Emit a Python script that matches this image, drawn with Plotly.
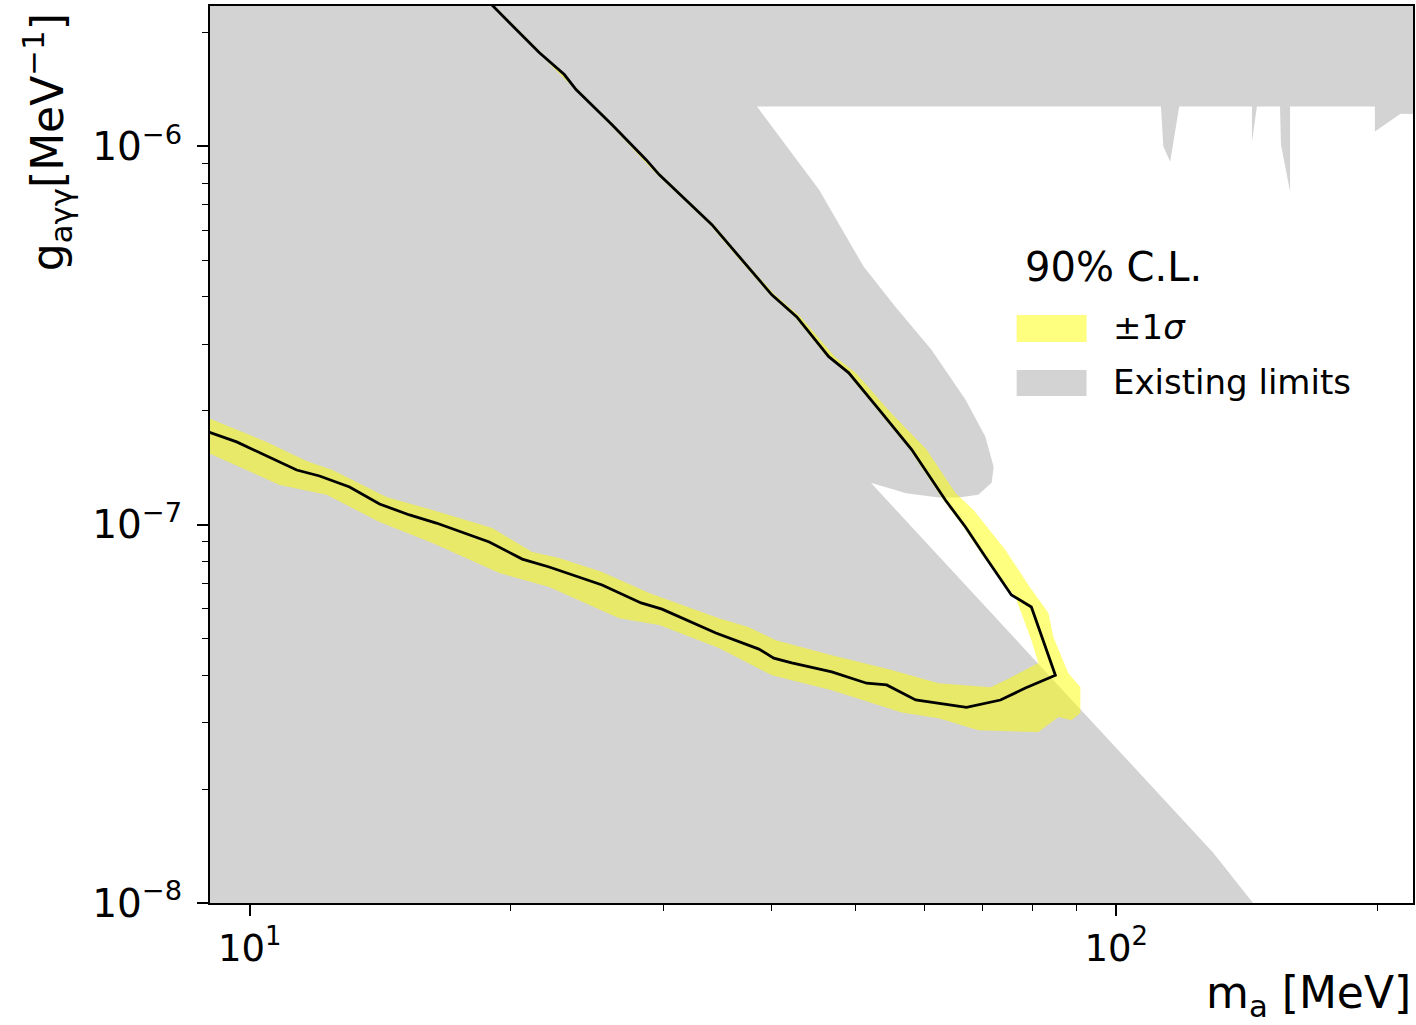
import plotly.graph_objects as go

# ---------------- data ----------------
# allowed (not yet excluded) region, boundary of the white hole in the "existing limits"
allowed_m = [38.5, 45.4, 51.1, 55.6, 61.2, 67.0, 70.6, 72.2, 71.8, 69.3, 65.8, 62.4, 57.2, 52.1,
             129.3, 143.8, 152.0, 300.0, 300.0, 212.9, 198.8, 198.8, 158.7, 158.7, 154.9, 154.5,
             145.3, 143.4, 143.4, 118.2, 115.4, 113.3, 112.6]
allowed_g = [1.274e-6, 7.68e-7, 4.81e-7, 3.77e-7, 2.90e-7, 2.14e-7, 1.71e-7, 1.42e-7, 1.29e-7,
             1.20e-7, 1.18e-7, 1.18e-7, 1.21e-7, 1.29e-7,
             1.36e-8, 1.0e-8, 8.5e-9, 8.5e-9, 1.2e-6, 1.22e-6, 1.094e-6, 1.274e-6, 1.274e-6,
             7.59e-7, 1.01e-6, 1.274e-6, 1.274e-6, 1.029e-6, 1.274e-6, 1.274e-6, 9.11e-7,
             1.0e-6, 1.274e-6]

# existing-limits domain (the whole displayed plane)
domain_m = [8.0, 300.0, 300.0, 8.0]
domain_g = [5e-9, 5e-9, 5e-6, 5e-6]

# median 90% C.L. sensitivity contour
median_m = [8.95, 9.66, 11.33, 12.04, 13.04, 14.12, 15.29, 16.42, 18.90, 20.63, 22.16, 25.51,
            28.29, 29.91, 34.51, 38.69, 40.25, 42.22, 46.96, 51.52, 54.33, 58.68, 67.17, 73.51,
            78.55, 85.06,
            79.8, 75.68, 70.64, 66.99, 63.53, 58.06, 53.48, 49.12, 46.58, 42.79, 40.04, 36.68,
            34.15, 29.68, 28.67, 26.19, 24.97, 23.80, 23.07, 21.58, 19.05, 17.46]
median_g = [1.76e-7, 1.655e-7, 1.395e-7, 1.345e-7, 1.258e-7, 1.134e-7, 1.061e-7, 1.01e-7,
            9.00e-8, 8.11e-8, 7.73e-8, 6.93e-8, 6.21e-8, 5.98e-8, 5.17e-8, 4.69e-8, 4.44e-8,
            4.31e-8, 4.08e-8, 3.81e-8, 3.77e-8, 3.44e-8, 3.29e-8, 3.44e-8, 3.70e-8, 4.00e-8,
            6.06e-8, 6.52e-8, 8.21e-8, 9.86e-8, 1.16e-7, 1.58e-7, 1.99e-7, 2.52e-7, 2.78e-7,
            3.54e-7, 4.05e-7, 5.11e-7, 6.21e-7, 8.42e-7, 9.22e-7, 1.141e-6, 1.266e-6, 1.413e-6,
            1.548e-6, 1.77e-6, 2.36e-6, 2.88e-6]

# +-1 sigma band: outer contour (forward) ...
outer_m = [8.95, 10.83, 12.27, 14.12, 16.25, 19.41, 22.16, 26.69, 29.68, 34.79, 40.04,
           46.96, 56.54, 62.37, 69.34, 81.31, 85.74, 88.75, 90.90,
           90.90, 88.04, 84.61, 83.50, 79.17, 74.49, 68.43, 65.23, 60.40, 54.77, 50.05, 47.33,
           43.24, 40.36, 36.88, 34.34, 29.83, 26.33, 23.93, 21.70, 19.15, 17.55]
outer_g = [1.548e-7, 1.274e-7, 1.199e-7, 1.016e-7, 8.95e-8, 7.45e-8, 6.84e-8, 5.66e-8,
           5.43e-8, 4.72e-8, 4.00e-8, 3.65e-8, 3.19e-8, 3.08e-8, 2.86e-8, 2.83e-8, 3.10e-8,
           3.04e-8, 3.18e-8,
           3.72e-8, 4.05e-8, 5.05e-8, 5.84e-8, 6.93e-8, 8.57e-8, 1.094e-7, 1.213e-7, 1.58e-7,
           1.99e-7, 2.52e-7, 2.78e-7, 3.54e-7, 4.05e-7, 5.11e-7, 6.21e-7, 8.42e-7, 1.141e-6,
           1.413e-6, 1.77e-6, 2.36e-6, 2.88e-6]
# ... and inner contour (from the top, down to the tip, back to the left)
inner_m = [17.41, 19.00, 21.53, 23.74, 26.06, 29.51, 33.97, 36.49, 39.83, 42.56, 46.34, 48.86,
           53.19, 57.75, 63.19, 66.63, 70.27, 76.48, 79.8, 81.31,
           74.49, 71.58, 62.37, 55.06, 46.96, 40.46, 37.67, 34.79, 28.90, 25.51, 22.76, 21.18,
           19.05, 16.25, 14.38, 12.46, 11.63, 10.46, 8.95]
inner_g = [2.88e-6, 2.36e-6, 1.77e-6, 1.413e-6, 1.141e-6, 8.42e-7, 6.21e-7, 5.11e-7, 4.05e-7,
           3.54e-7, 2.78e-7, 2.52e-7, 1.99e-7, 1.58e-7, 1.16e-7, 9.86e-8, 8.21e-8, 6.44e-8,
           4.95e-8, 4.31e-8,
           3.88e-8, 3.72e-8, 3.81e-8, 4.13e-8, 4.52e-8, 4.95e-8, 5.36e-8, 5.66e-8, 6.60e-8,
           7.50e-8, 8.17e-8, 8.47e-8, 9.80e-8, 1.094e-7, 1.184e-7, 1.395e-7, 1.474e-7,
           1.655e-7, 1.915e-7]

x_tickvals = [10, 100]
x_ticktext = ["10<sup>1</sup>", "10<sup>2</sup>"]
x_minor = [20, 30, 40, 50, 60, 70, 80, 90, 200]
y_tickvals = [1e-8, 1e-7, 1e-6]
y_ticktext = ["10<sup>\u22128</sup>", "10<sup>\u22127</sup>", "10<sup>\u22126</sup>"]
y_minor = [2e-8, 3e-8, 4e-8, 5e-8, 6e-8, 7e-8, 8e-8, 9e-8,
           2e-7, 3e-7, 4e-7, 5e-7, 6e-7, 7e-7, 8e-7, 9e-7, 2e-6]

legend_title = "90% C.L."
legend_labels = ["\u00b11<i>\u03c3</i>", "Existing limits"]

GRAY = "#d3d3d3"
YELLOW = "rgba(255,255,0,0.5)"
FONT = "DejaVu Sans"

# ---------------- figure ----------------
fig = go.Figure()
fig.add_trace(go.Scatter(x=domain_m, y=domain_g, mode="none", fill="toself",
                         fillcolor=GRAY, hoverinfo="skip", showlegend=False))
fig.add_trace(go.Scatter(x=allowed_m, y=allowed_g, mode="none", fill="toself",
                         fillcolor="white", hoverinfo="skip", showlegend=False))
fig.add_trace(go.Scatter(x=outer_m + inner_m, y=outer_g + inner_g, mode="none", fill="toself",
                         fillcolor=YELLOW, hoverinfo="skip", showlegend=False))
fig.add_trace(go.Scatter(x=median_m, y=median_g, mode="lines",
                         line=dict(color="black", width=2.8), showlegend=False))

axis_common = dict(
    type="log", showgrid=False, zeroline=False,
    showline=True, linecolor="black", linewidth=2.2, mirror=True,
    ticks="outside", ticklen=11, tickwidth=1.8, tickcolor="black",
    tickfont=dict(family=FONT, size=37, color="black"),
)
fig.update_xaxes(**axis_common, range=[0.9542, 2.3424],
                 tickmode="array", tickvals=x_tickvals, ticktext=x_ticktext,
                 minor=dict(tickmode="array", tickvals=x_minor, ticks="outside",
                            ticklen=6, tickwidth=1.4, tickcolor="black"))
fig.update_yaxes(**axis_common, range=[-8, -5.629], ticklabelstandoff=7,
                 tickmode="array", tickvals=y_tickvals, ticktext=y_ticktext,
                 minor=dict(tickmode="array", tickvals=y_minor, ticks="outside",
                            ticklen=6, tickwidth=1.4, tickcolor="black"))
fig.update_yaxes(tickfont=dict(family=FONT, size=39, color="black"))

W, H = 1416, 1025
L, R, T, B = 210, 1, 6, 122
pw, ph = W - L - R, H - T - B


def px(xp):
    return (xp - L) / pw


def py(yp):
    return (H - B - yp) / ph


annotations = [
    dict(text="m<sub>a</sub> [MeV]", x=1.0, y=py(996), xref="paper", yref="paper",
         xanchor="right", yanchor="middle", showarrow=False,
         font=dict(family=FONT, size=44, color="black")),
    dict(text="g<sub>a\u03b3\u03b3</sub>[MeV<sup>\u22121</sup>]", x=px(47), y=py(142),
         xref="paper", yref="paper", xanchor="center", yanchor="middle", textangle=-90,
         showarrow=False, font=dict(family=FONT, size=44, color="black")),
    dict(text=legend_title, x=px(1024), y=py(267), xref="paper", yref="paper",
         xanchor="left", yanchor="middle", showarrow=False,
         font=dict(family=FONT, size=40, color="black")),
    dict(text=legend_labels[0], x=px(1112), y=py(327), xref="paper", yref="paper",
         xanchor="left", yanchor="middle", showarrow=False,
         font=dict(family=FONT, size=34, color="black")),
    dict(text=legend_labels[1], x=px(1112), y=py(382), xref="paper", yref="paper",
         xanchor="left", yanchor="middle", showarrow=False,
         font=dict(family=FONT, size=34, color="black")),
]
shapes = [
    dict(type="rect", xref="paper", yref="paper", x0=px(1018), x1=px(1088),
         y0=py(342), y1=py(315), fillcolor="rgba(255,255,0,0.5)", line=dict(width=0)),
    dict(type="rect", xref="paper", yref="paper", x0=px(1018), x1=px(1088),
         y0=py(396), y1=py(370), fillcolor=GRAY, line=dict(width=0)),
]

fig.update_layout(
    width=W, height=H,
    margin=dict(l=L, r=R, t=T, b=B, pad=0),
    paper_bgcolor="white", plot_bgcolor="white",
    showlegend=False,
    annotations=annotations, shapes=shapes,
    font=dict(family=FONT, color="black"),
)

fig.write_html("out.html")
